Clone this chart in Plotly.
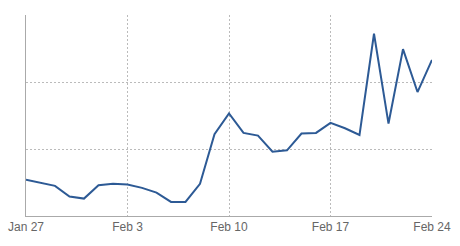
import plotly.graph_objects as go
import pandas as pd

dates = pd.date_range("2013-01-27", "2013-02-24", freq="D").strftime("%Y-%m-%d").tolist()
values = [54, 49, 45, 29, 26, 46, 48, 47, 42, 35, 21, 21, 48, 122, 153,
          124, 120, 96, 98, 123, 124, 139, 131, 121, 272, 138, 249, 185, 233]
tick_vals = ["2013-01-27", "2013-02-03", "2013-02-10", "2013-02-17", "2013-02-24"]
tick_text = ["Jan 27", "Feb 3", "Feb 10", "Feb 17", "Feb 24"]

fig = go.Figure(go.Scatter(x=dates, y=values, mode="lines",
                           line=dict(color="#2d5a95", width=2), hoverinfo="skip"))
fig.update_layout(
    width=460, height=246, margin=dict(l=26, r=28, t=15, b=30, autoexpand=False),
    paper_bgcolor="white", plot_bgcolor="white", showlegend=False,
    font=dict(family="Liberation Sans, Arial, sans-serif", size=12, color="#666666"),
)
fig.update_xaxes(range=["2013-01-27", "2013-02-24"], tickvals=tick_vals, ticktext=tick_text,
                 showgrid=True, gridcolor="#bbbbbb", griddash="2px,2px", gridwidth=1,
                 showline=True, linecolor="#aaaaaa", linewidth=1, ticks="", zeroline=False,
                 automargin=False)
fig.update_yaxes(range=[0, 300], dtick=100, showticklabels=False,
                 showgrid=True, gridcolor="#bbbbbb", griddash="2px,2px", gridwidth=1,
                 showline=True, linecolor="#aaaaaa", linewidth=1, ticks="", zeroline=False,
                 automargin=False)
fig.write_html("out.html")
